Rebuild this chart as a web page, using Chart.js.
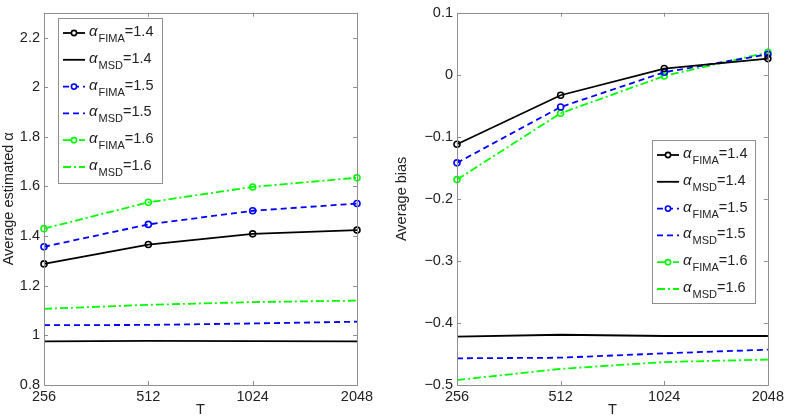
<!DOCTYPE html>
<html>
<head>
<meta charset="utf-8">
<script src="https://cdn.jsdelivr.net/npm/chart.js@4"></script>
<style>
  body { margin: 0; background: #fff; }
  #wrap { position: relative; width: 787px; height: 420px; }
  #left { position: absolute; left: 0; top: 0; }
  #right { position: absolute; left: 393px; top: 0; }
</style>
</head>
<body>
<div id="wrap">
  <canvas id="left" width="393" height="420"></canvas>
  <canvas id="right" width="394" height="420"></canvas>
</div>
<script>
// x-axis: window sizes T
var T = ['256', '512', '1024', '2048'];

// left panel: average estimated alpha
var estFima14 = [1.288, 1.366, 1.409, 1.424];
var estMsd14  = [0.976, 0.978, 0.977, 0.976];
var estFima15 = [1.357, 1.447, 1.502, 1.531];
var estMsd15  = [1.041, 1.042, 1.048, 1.055];
var estFima16 = [1.430, 1.536, 1.598, 1.635];
var estMsd16  = [1.107, 1.123, 1.134, 1.140];

// right panel: average bias
var biasFima14 = [-0.112, -0.033, 0.010, 0.026];
var biasMsd14  = [-0.422, -0.419, -0.421, -0.421];
var biasFima15 = [-0.142, -0.052, 0.004, 0.033];
var biasMsd15  = [-0.457, -0.456, -0.449, -0.443];
var biasFima16 = [-0.169, -0.062, -0.002, 0.036];
var biasMsd16  = [-0.492, -0.474, -0.463, -0.459];

// legend labels: subscript and value
var legendSubs = ['FIMA', 'MSD', 'FIMA', 'MSD', 'FIMA', 'MSD'];
var legendVals = ['1.4', '1.4', '1.5', '1.5', '1.6', '1.6'];

var yTicksLeft = [0.8, 1, 1.2, 1.4, 1.6, 1.8, 2, 2.2];
var yTicksRight = [-0.5, -0.4, -0.3, -0.2, -0.1, 0, 0.1];

var FONT = '"Liberation Sans", Arial, Helvetica, sans-serif';
var FRAME = '#8f8f8f';
var BLACK = '#000000', BLUE = '#0000ff', GREEN = '#00ff00';
var DASH = [6, 4], DASHDOT = [8, 3, 2, 3];

function makeSets(f14, m14, f15, m15, f16, m16) {
  function ds(data, color, dash, marker) {
    return {
      data: data,
      borderColor: color,
      backgroundColor: 'rgba(255,255,255,0)',
      borderWidth: 1.8,
      borderDash: dash,
      pointRadius: marker ? 3 : 0,
      pointBorderWidth: 1.6,
      pointBorderColor: color,
      pointBackgroundColor: 'rgba(255,255,255,0)',
      tension: 0,
      fill: false
    };
  }
  return [
    ds(f14, BLACK, [], true),
    ds(m14, BLACK, [], false),
    ds(f15, BLUE, DASH, true),
    ds(m15, BLUE, DASH, false),
    ds(f16, GREEN, DASHDOT, true),
    ds(m16, GREEN, DASHDOT, false)
  ];
}

// frame + inward ticks like matlab
var framePlugin = {
  id: 'frame',
  afterDatasetsDraw: function (chart) {
    var ctx = chart.ctx, a = chart.chartArea;
    ctx.save();
    ctx.strokeStyle = FRAME;
    ctx.lineWidth = 1;
    ctx.strokeRect(Math.round(a.left) + 0.5, Math.round(a.top) + 0.5,
      Math.round(a.right - a.left), Math.round(a.bottom - a.top));
    var xs = chart.scales.x, ys = chart.scales.y, len = 4;
    ctx.beginPath();
    xs.ticks.forEach(function (t, i) {
      var px = Math.round(xs.getPixelForTick(i)) + 0.5;
      ctx.moveTo(px, a.bottom); ctx.lineTo(px, a.bottom - len);
      ctx.moveTo(px, a.top); ctx.lineTo(px, a.top + len);
    });
    ys.ticks.forEach(function (t, i) {
      var py = Math.round(ys.getPixelForTick(i)) + 0.5;
      ctx.moveTo(a.left, py); ctx.lineTo(a.left + len, py);
      ctx.moveTo(a.right, py); ctx.lineTo(a.right - len, py);
    });
    ctx.stroke();
    ctx.restore();
  }
};

// legend with subscripts
var subLegendPlugin = {
  id: 'subLegend',
  afterDraw: function (chart, args, opts) {
    var ctx = chart.ctx;
    ctx.save();
    ctx.fillStyle = '#fff';
    ctx.fillRect(opts.x, opts.y, opts.w, opts.h);
    ctx.strokeStyle = FRAME;
    ctx.lineWidth = 1;
    ctx.strokeRect(opts.x + 0.5, opts.y + 0.5, opts.w, opts.h);
    chart.data.datasets.forEach(function (d, i) {
      var cy = opts.y + 15 + i * 26.8;
      var x0 = opts.x + 5, x1 = x0 + 22;
      ctx.strokeStyle = d.borderColor;
      ctx.lineWidth = 1.8;
      ctx.setLineDash(d.borderDash);
      ctx.beginPath();
      ctx.moveTo(x0, cy); ctx.lineTo(x1, cy);
      ctx.stroke();
      ctx.setLineDash([]);
      if (d.pointRadius > 0) {
        ctx.lineWidth = 1.6;
        ctx.fillStyle = '#fff';
        ctx.beginPath();
        ctx.arc((x0 + x1) / 2, cy, 2.6, 0, Math.PI * 2);
        ctx.fill();
        ctx.stroke();
      }
      var tx = x1 + 4;
      ctx.fillStyle = '#222';
      ctx.textBaseline = 'alphabetic';
      ctx.font = 'italic 15px ' + FONT;
      ctx.fillText('\u03b1', tx, cy + 3);
      tx += ctx.measureText('\u03b1').width + 1;
      ctx.font = '11px ' + FONT;
      ctx.fillText(legendSubs[i], tx, cy + 9);
      tx += ctx.measureText(legendSubs[i]).width;
      ctx.font = '14.5px ' + FONT;
      ctx.fillText('=' + legendVals[i], tx, cy + 3);
    });
    ctx.restore();
  }
};

function fmt(v) {
  var s = (Math.round(v * 10) / 10).toString();
  return s.replace('-', '\u2212');
}

function makeChart(id, sets, yMin, yMax, yTicks, yTitle, yWidth, rightPad, legend) {
  return new Chart(document.getElementById(id), {
    type: 'line',
    data: { labels: T, datasets: sets },
    plugins: [framePlugin, subLegendPlugin],
    options: {
      responsive: false,
      animation: false,
      layout: { padding: { top: 7, right: rightPad, left: 0, bottom: 0 } },
      plugins: {
        legend: { display: false },
        tooltip: { enabled: false },
        subLegend: legend
      },
      scales: {
        x: {
          type: 'category',
          offset: false,
          grid: { display: false, drawTicks: false },
          border: { display: false },
          ticks: { color: '#222', font: { family: FONT, size: 14.5 }, padding: 3, maxRotation: 0, autoSkip: false },
          title: { display: true, text: 'T', color: '#222', font: { family: FONT, size: 14.5 }, padding: { top: 0, bottom: 1 } },
          afterFit: function (s) { s.height = 35; }
        },
        y: {
          min: yMin,
          max: yMax,
          grid: { display: false, drawTicks: false },
          border: { display: false },
          afterBuildTicks: function (s) { s.ticks = yTicks.map(function (v) { return { value: v }; }); },
          ticks: { color: '#222', font: { family: FONT, size: 14.5 }, padding: 4, callback: function (v) { return fmt(v); } },
          title: { display: true, text: yTitle, color: '#222', font: { family: FONT, size: 14.5 }, padding: { top: 0, bottom: 0 } },
          afterFit: function (s) { s.width = yWidth; }
        }
      }
    }
  });
}

makeChart('left', makeSets(estFima14, estMsd14, estFima15, estMsd15, estFima16, estMsd16),
  0.8, 2.3, yTicksLeft, 'Average estimated \u03b1', 44, 36,
  { x: 58, y: 18, w: 104, h: 165 });

makeChart('right', makeSets(biasFima14, biasMsd14, biasFima15, biasMsd15, biasFima16, biasMsd16),
  -0.5, 0.1, yTicksRight, 'Average bias', 64, 17,
  { x: 259, y: 140, w: 103, h: 163 });
</script>
</body>
</html>
